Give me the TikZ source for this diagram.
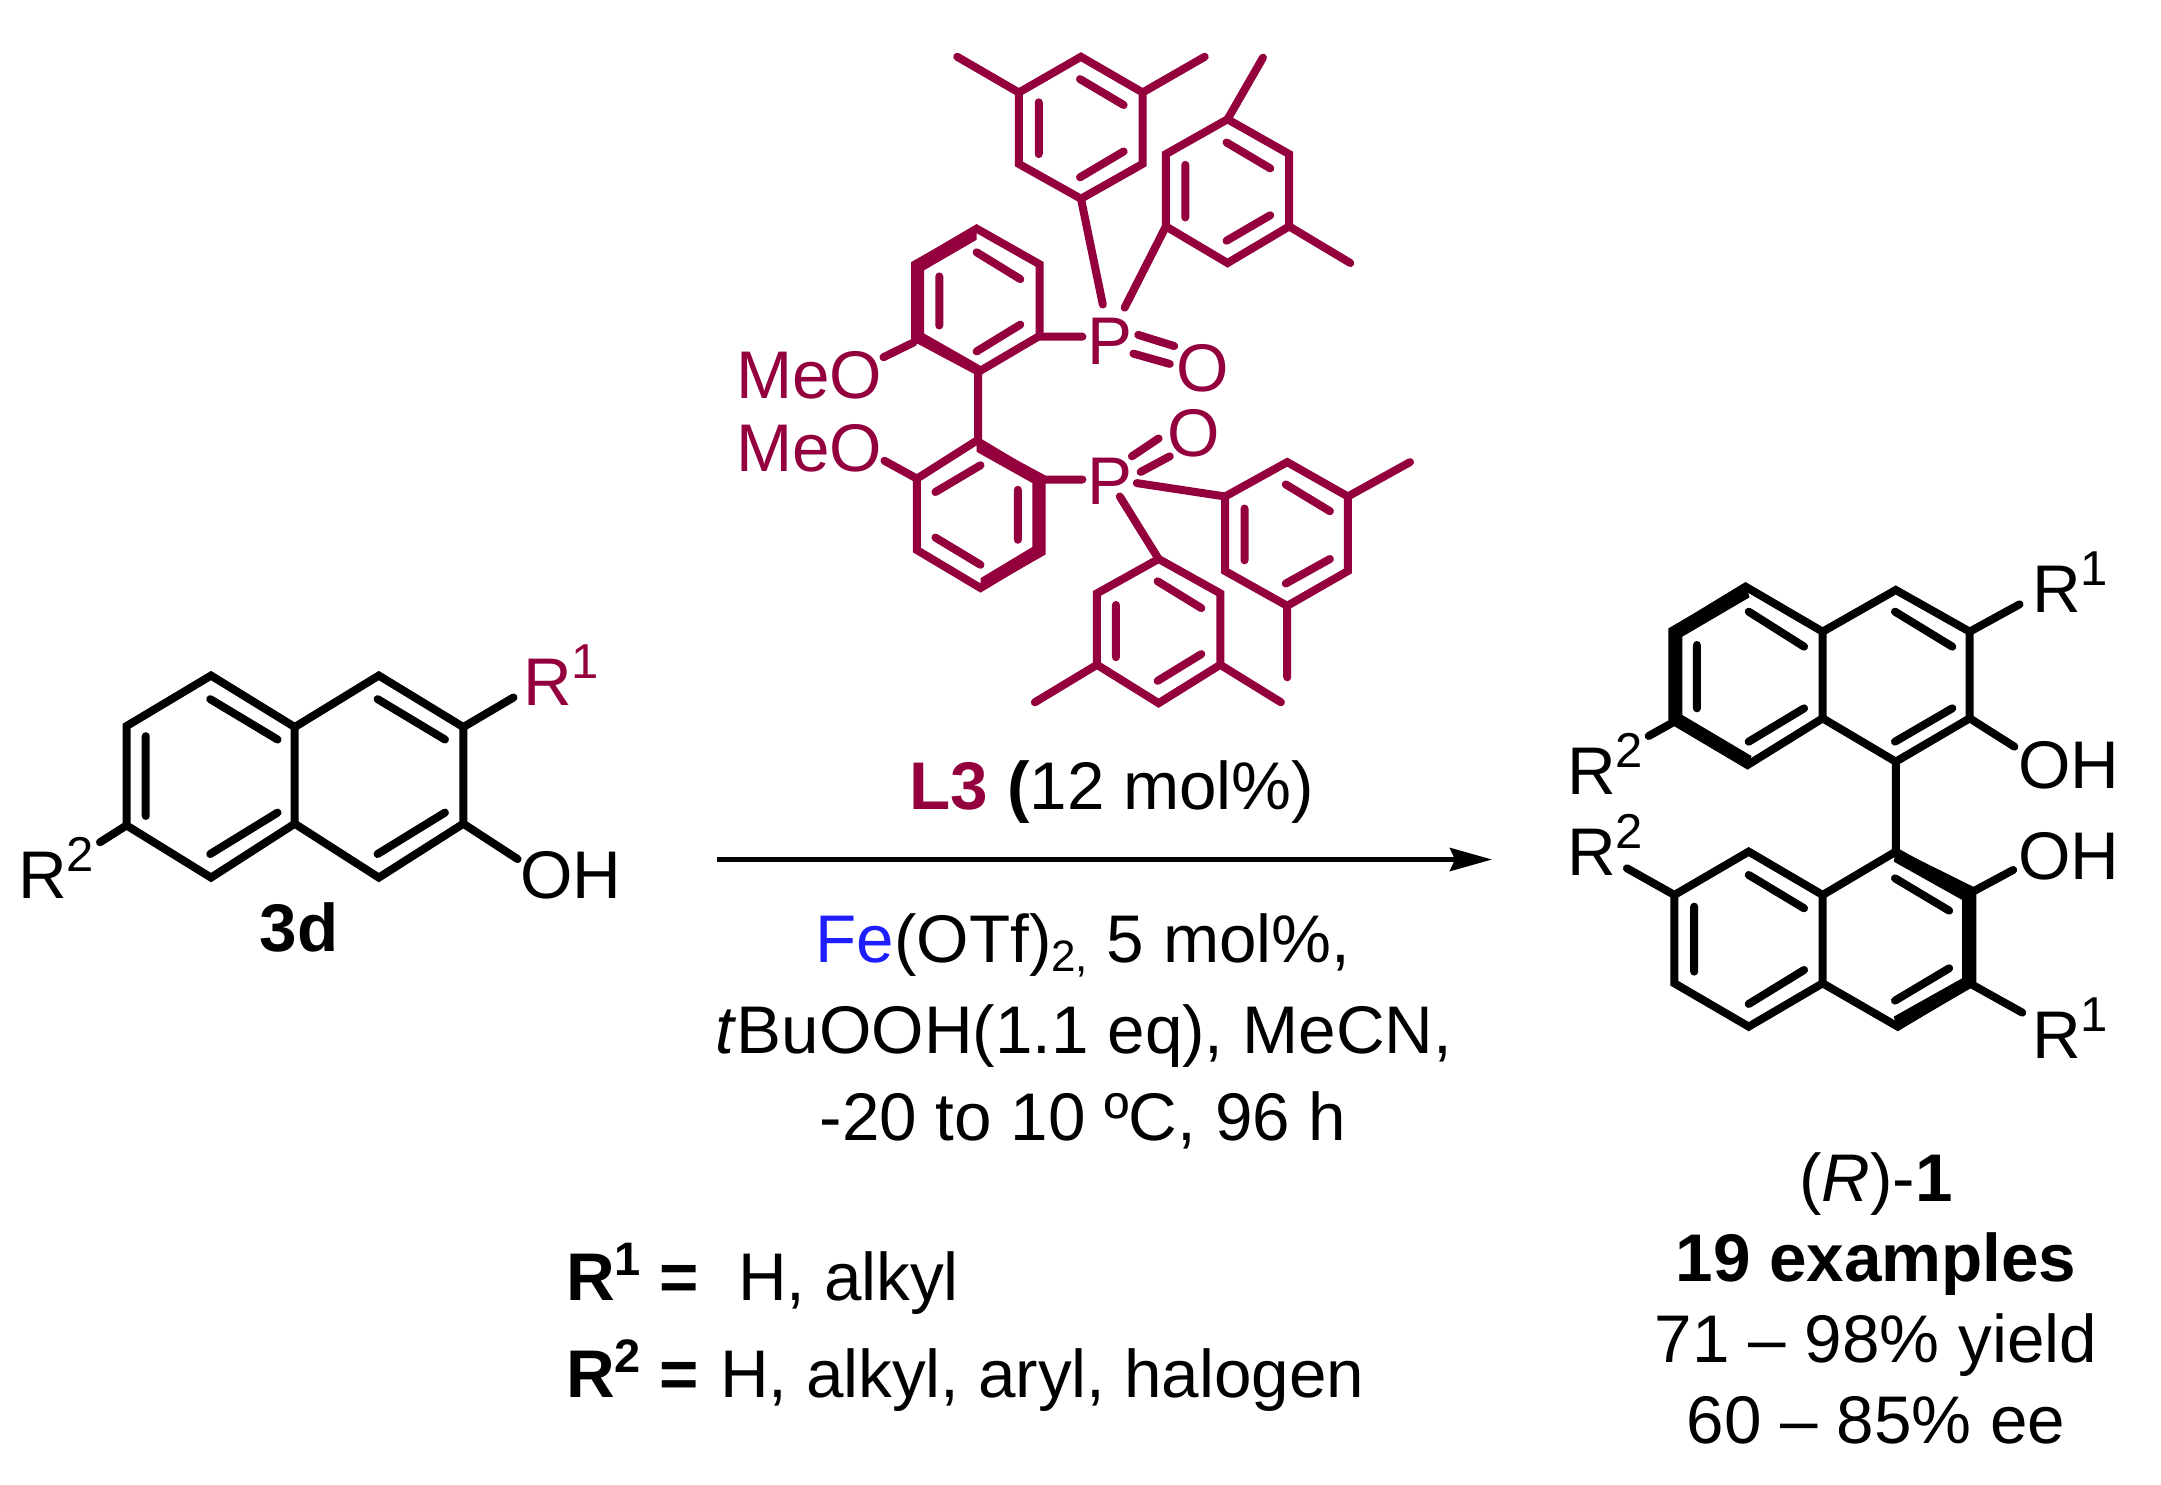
\documentclass[tikz,border=0pt]{standalone}
\usepackage{fontspec}
\setmainfont{Liberation Sans}
\usetikzlibrary{arrows.meta}
\definecolor{plum}{RGB}{148,0,62}
\definecolor{feblue}{RGB}{30,30,255}
\newcommand{\basefont}{\fontsize{67.4}{72}\selectfont}
\newcommand{\supn}[1]{\raisebox{27pt}{\fontsize{49}{49}\selectfont #1}}
\newcommand{\bsupn}[1]{\raisebox{25pt}{\fontsize{47}{47}\selectfont\bfseries #1}}
\tikzset{
 bond/.style={line width=8pt,line cap=round,line join=miter},
 txt/.style={inner sep=0pt,outer sep=0pt,font=\basefont,anchor=base west},
 ctxt/.style={inner sep=0pt,outer sep=0pt,font=\basefont,anchor=base},
}
\begin{document}
\begin{tikzpicture}[x=1pt,y=-1pt]
\useasboundingbox (0,0) rectangle (2161,1484);
\fill[white] (0,0) rectangle (2161,1484);

% ---------- ligand ----------
\begin{scope}[shift={(700pt,-30pt)},x=0.4853pt,y=-0.4464pt,plum,fill=plum]
 \draw[bond] (785,60)--(912,140)--(912,300)--(785,378)--(657,300)--(657,140)--cycle;
 \draw[bond] (657,140)--(530,60) (912,140)--(1040,60) (783,110)--(873,168) (783,330)--(873,272) (698,162)--(698,278) (785,378)--(830,615);
 \draw[bond] (1087,200)--(1214,278)--(1214,440)--(1087,522)--(960,440)--(960,278)--cycle;
 \draw[bond] (1087,200)--(1160,62) (1214,440)--(1340,522) (1085,252)--(1175,310) (1085,472)--(1175,415) (1000,302)--(1000,420) (960,440)--(875,622);
 % upper biaryl ring
 \draw[bond] (570,445)--(700,525)--(700,685)--(575,765)--(445,690)--(445,525)--cycle;
 \fill (570,438)--(435,520)--(435,695)--(578,778)--(578,752)--(462,680)--(462,538)--(570,470)--cycle;
 \draw[bond] (570,498)--(660,558) (660,660)--(570,720) (493,552)--(493,662) (700,687)--(788,687) (440,700)--(378,733) (573,770)--(573,920);
 % lower biaryl ring
 \draw[bond] (570,920)--(700,1005)--(700,1170)--(578,1250)--(447,1165)--(447,1005)--cycle;
 \fill (570,915)--(712,998)--(712,1175)--(578,1258)--(578,1228)--(685,1158)--(685,1015)--(570,945)--cycle;
 \draw[bond] (485,1035)--(578,975) (655,1030)--(655,1142) (485,1137)--(578,1198) (705,1007)--(788,1007) (447,1005)--(380,965);
 % P=O
 \draw[bond] (903,683)--(977,708) (893,725)--(968,748) (890,955)--(945,915) (908,990)--(968,955);
 % ring E
 \draw[bond] (1210,968)--(1335,1045)--(1335,1212)--(1210,1290)--(1082,1212)--(1082,1045)--cycle;
 \draw[bond] (1335,1045)--(1463,968) (1210,1290)--(1210,1450) (1207,1018)--(1298,1078) (1207,1240)--(1298,1185) (1122,1072)--(1122,1188) (1082,1045)--(900,1015);
 % ring F
 \draw[bond] (945,1185)--(1072,1262)--(1072,1422)--(945,1508)--(818,1422)--(818,1262)--cycle;
 \draw[bond] (1072,1422)--(1197,1506) (818,1422)--(690,1506) (943,1235)--(1033,1295) (943,1458)--(1033,1398) (857,1288)--(857,1405) (945,1185)--(865,1045);
\end{scope}
\begin{scope}[plum]
 \node[txt] (meo1) at (736,398) {MeO};
 \node[txt] (meo2) at (736,471) {MeO};
 \node[txt] (p1) at (1087,364) {P};
 \node[txt] (o1) at (1176,391) {O};
 \node[txt] (p2) at (1087,504) {P};
 \node[txt] (o2) at (1167,456) {O};
\end{scope}

% ---------- substrate 3d ----------
\begin{scope}[shift={(0pt,-620pt)},x=0.4082pt,y=-0.3367pt]
 \coordinate (n1) at (517,165); \coordinate (n2) at (722,318); \coordinate (n3) at (722,605);
 \coordinate (n4) at (517,765); \coordinate (n5) at (310,610); \coordinate (n6) at (310,315);
 \coordinate (q1) at (928,165); \coordinate (q2) at (1135,318); \coordinate (q3) at (1135,605); \coordinate (q4) at (928,765);
 \draw[bond] (n1)--(n2)--(n3)--(n4)--(n5)--(n6)--cycle;
 \draw[bond] (n2)--(q1)--(q2)--(q3)--(q4)--(n3);
 \draw[bond] (q2)--(1258,230) (q3)--(1268,710) (n5)--(245,660);
 \draw[bond] (515,235)--(680,355) (515,695)--(680,572) (357,345)--(357,582) (925,235)--(1090,355) (925,695)--(1090,572);
\end{scope}
\node[txt,text=plum] (r1a) at (523,705) {R\supn{1}};
\node[txt] (r2a) at (18,898) {R\supn{2}};
\node[txt] (oha) at (520,898) {OH};
\node[ctxt,font=\basefont\bfseries] (lab3d) at (299,951) {3d};

% ---------- product ----------
\begin{scope}[shift={(1540pt,-540pt)},x=0.3953pt,y=-0.3333pt]
 \coordinate (g1) at (520,140); \coordinate (g2) at (715,275); \coordinate (g3) at (715,535);
 \coordinate (g4) at (525,675); \coordinate (g5) at (340,545); \coordinate (g6) at (340,270);
 \coordinate (h1) at (900,150); \coordinate (h2) at (1087,275); \coordinate (h3) at (1087,535); \coordinate (h4) at (900,665);
 \draw[bond] (g1)--(g2)--(g3)--(g4)--(g5)--(g6)--cycle;
 \draw[bond] (g2)--(h1)--(h2)--(h3)--(h4)--(g3);
 \fill (520,132)--(325,265)--(325,540)--(525,688)--(535,648)--(360,525)--(360,290)--(530,172)--cycle;
 \draw[bond] (h2)--(1213,193) (h3)--(1200,620) (g5)--(275,588) (h4)--(900,935);
 \draw[bond] (528,215)--(668,320) (528,605)--(668,505) (397,315)--(397,505) (898,215)--(1043,320) (898,605)--(1043,505);
 \coordinate (k1) at (900,935); \coordinate (k2) at (1087,1060); \coordinate (k3) at (1087,1330);
 \coordinate (k4) at (905,1460); \coordinate (k5) at (715,1330); \coordinate (k6) at (715,1065);
 \coordinate (m1) at (528,935); \coordinate (m2) at (340,1065); \coordinate (m3) at (340,1330); \coordinate (m4) at (528,1460);
 \draw[bond] (k1)--(k2)--(k3)--(k4)--(k5)--(k6)--cycle;
 \draw[bond] (k6)--(m1)--(m2)--(m3)--(m4)--(k5);
 \fill (900,925)--(1104,1045)--(1104,1335)--(905,1472)--(895,1430)--(1068,1315)--(1068,1080)--(895,965)--cycle;
 \draw[bond] (898,1015)--(1035,1112) (898,1382)--(1035,1285) (528,1005)--(668,1105) (528,1392)--(668,1290) (390,1100)--(390,1295);
 \draw[bond] (m2)--(220,985) (k2)--(1197,990) (k3)--(1220,1418);
\end{scope}
\node[txt] (r1b) at (2032,612) {R\supn{1}};
\node[txt] (ohb) at (2018,788) {OH};
\node[txt] (r2b) at (1567,794) {R\supn{2}};
\node[txt] (r2c) at (1567,875) {R\supn{2}};
\node[txt] (ohc) at (2018,879) {OH};
\node[txt] (r1c) at (2032,1058) {R\supn{1}};

% ---------- arrow and conditions ----------
\coordinate (arrS) at (717,859.5);
\coordinate (arrE) at (1492,859.5);
\draw[line width=5pt,-{Stealth[length=42pt,width=23pt,inset=5pt]}] (arrS)--(arrE);
\node[ctxt] (l3) at (1112,809) {\textcolor{plum}{\bfseries L3 }{\bfseries (}12 mol\%)};
\node[ctxt] (c1) at (1083,962) {\textcolor{feblue}{Fe}(OTf)\raisebox{-9pt}{\fontsize{44}{44}\selectfont 2,} 5 mol\%,};
\node[ctxt] (c2) at (1084,1053) {\textit{t}BuOOH(1.1 eq), MeCN,};
\node[ctxt] (c3) at (1083,1140) {-20 to 10 ºC, 96 h};
\node[txt] (rd1) at (566,1300) {\bfseries R\bsupn{1} =};
\node[txt] (rt1) at (738,1300) {H, alkyl};
\node[txt] (rd2) at (566,1397) {\bfseries R\bsupn{2} =};
\node[txt] (rt2) at (720,1397) {H, alkyl, aryl, halogen};

% ---------- results ----------
\node[ctxt] (res1) at (1876,1201) {(\textit{R})-\textbf{1}};
\node[ctxt] (res2) at (1876,1281) {\bfseries 19 examples};
\node[ctxt] (res3) at (1876,1362) {71 – 98\% yield};
\node[ctxt] (res4) at (1876,1443) {60 – 85\% ee};
\end{tikzpicture}
\end{document}
